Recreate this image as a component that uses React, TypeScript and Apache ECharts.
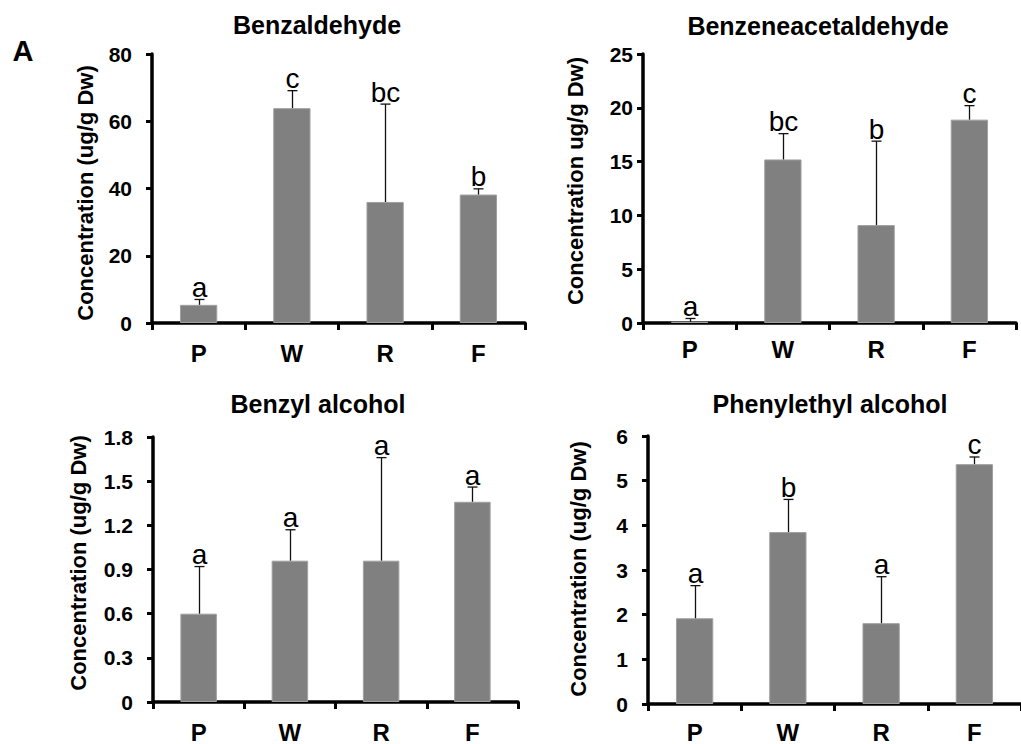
import React, { useEffect, useRef } from "react";
import * as echarts from "echarts";

const categories = ["P", "W", "R", "F"];

const benzaldehydeMean = [5.4, 63.9, 36.0, 38.2];
const benzaldehydeSd = [1.6, 5.2, 29.1, 1.7];
const benzaldehydeLetters = ["a", "c", "bc", "b"];

const benzeneacetaldehydeMean = [0.12, 15.2, 9.1, 18.9];
const benzeneacetaldehydeSd = [0.3, 2.4, 7.8, 1.3];
const benzeneacetaldehydeLetters = ["a", "bc", "b", "c"];

const benzylAlcoholMean = [0.6, 0.96, 0.96, 1.36];
const benzylAlcoholSd = [0.32, 0.21, 0.7, 0.1];
const benzylAlcoholLetters = ["a", "a", "a", "a"];

const phenylethylMean = [1.92, 3.85, 1.81, 5.37];
const phenylethylSd = [0.73, 0.73, 1.04, 0.16];
const phenylethylLetters = ["a", "b", "a", "c"];

const titles = ["Benzaldehyde", "Benzeneacetaldehyde", "Benzyl alcohol", "Phenylethyl alcohol"];
const yLabels = [
  "Concentration (ug/g Dw)",
  "Concentration ug/g Dw)",
  "Concentration (ug/g Dw)",
  "Concentration (ug/g Dw)",
];
const yMax = [80, 25, 1.8, 6];
const yInterval = [20, 5, 0.3, 1];

const FONT = "'Liberation Sans', Arial, Helvetica, sans-serif";

const panels = [
  { mean: benzaldehydeMean, sd: benzaldehydeSd, letters: benzaldehydeLetters },
  { mean: benzeneacetaldehydeMean, sd: benzeneacetaldehydeSd, letters: benzeneacetaldehydeLetters },
  { mean: benzylAlcoholMean, sd: benzylAlcoholSd, letters: benzylAlcoholLetters },
  { mean: phenylethylMean, sd: phenylethylSd, letters: phenylethylLetters },
];

// layout (style, not data)
const grids = [
  { left: 152, top: 54, width: 373, height: 269 },
  { left: 643, top: 54, width: 373, height: 269 },
  { left: 153, top: 437, width: 365, height: 268 },
  { left: 648, top: 436, width: 382, height: 268 },
];
const yLabelMargin = [20, 10, 20, 20];
const xLabelMargin = [18, 14, 18, 16];
const titlePos = [
  [317, 25],
  [818, 26],
  [318, 404],
  [830, 404],
];
const yNamePos = [
  [85, 193],
  [575, 181],
  [78, 563],
  [578, 569],
];

function makeRender(letters: string[]) {
  return (params: any, api: any) => {
    const base = api.coord([api.value(0), api.value(1)]);
    const top = api.coord([api.value(0), api.value(2)]);
    const cx = Math.round(base[0]) + 0.5;
    const ty = top[1];
    return {
      type: "group",
      children: [
        {
          type: "line",
          shape: { x1: cx, y1: base[1], x2: cx, y2: ty },
          style: { stroke: "#111", lineWidth: 1.3 },
        },
        {
          type: "line",
          shape: { x1: cx - 5, y1: ty, x2: cx + 5, y2: ty },
          style: { stroke: "#111", lineWidth: 1.3 },
        },
        {
          type: "text",
          style: {
            text: letters[params.dataIndex],
            x: cx,
            y: ty + 2,
            align: "center",
            verticalAlign: "bottom",
            fontSize: 28,
            fontFamily: FONT,
            fill: "#000",
          },
        },
      ],
    };
  };
}

export default function App() {
  const ref = useRef<HTMLDivElement>(null);

  useEffect(() => {
    if (!ref.current) return;
    const chart = echarts.init(ref.current, null, { renderer: "svg" });

    const xAxis = panels.map((_, i) => ({
      type: "category",
      gridIndex: i,
      data: categories,
      axisLine: { show: true, lineStyle: { color: "#000", width: 3.5 } },
      axisTick: { show: true, length: 7, lineStyle: { color: "#000", width: 3 } },
      axisLabel: {
        color: "#000",
        fontSize: 24,
        fontWeight: "bold",
        fontFamily: FONT,
        margin: xLabelMargin[i],
      },
      splitLine: { show: false },
    }));

    const yAxis = panels.map((_, i) => ({
      type: "value",
      gridIndex: i,
      min: 0,
      max: yMax[i],
      interval: yInterval[i],
      axisLine: { show: true, lineStyle: { color: "#000", width: 3.5 } },
      axisTick: { show: true, length: 6, lineStyle: { color: "#000", width: 3 } },
      axisLabel: {
        color: "#000",
        fontSize: 21,
        fontWeight: "bold",
        fontFamily: FONT,
        margin: yLabelMargin[i],
        formatter: (v: number) =>
          v === 0 ? "0" : yInterval[i] < 1 ? v.toFixed(1) : String(Math.round(v)),
      },
      splitLine: { show: false },
    }));

    const series: any[] = [];
    panels.forEach((p, i) => {
      series.push({
        type: "bar",
        xAxisIndex: i,
        yAxisIndex: i,
        data: p.mean,
        barWidth: "40%",
        itemStyle: { color: "#808080", borderColor: "#a0a0a0", borderWidth: 1 },
        z: 2,
      });
      series.push({
        type: "custom",
        xAxisIndex: i,
        yAxisIndex: i,
        data: categories.map((_, k) => [k, p.mean[k], p.mean[k] + p.sd[k]]),
        renderItem: makeRender(p.letters),
        clip: false,
        z: 3,
      });
    });

    const graphics: any[] = [];
    titles.forEach((t, i) => {
      graphics.push({
        type: "text",
        x: titlePos[i][0],
        y: titlePos[i][1],
        style: {
          text: t,
          align: "center",
          verticalAlign: "middle",
          fontSize: 25,
          fontWeight: "bold",
          fontFamily: FONT,
          fill: "#000",
        },
      });
      graphics.push({
        type: "text",
        x: yNamePos[i][0],
        y: yNamePos[i][1],
        rotation: Math.PI / 2,
        style: {
          text: yLabels[i],
          align: "center",
          verticalAlign: "middle",
          fontSize: 22,
          fontWeight: "bold",
          fontFamily: FONT,
          fill: "#000",
        },
      });
    });
    graphics.push({
      type: "text",
      x: 23,
      y: 51,
      style: {
        text: "A",
        align: "center",
        verticalAlign: "middle",
        fontSize: 29,
        fontWeight: "bold",
        fontFamily: FONT,
        fill: "#000",
      },
    });

    chart.setOption({
      animation: false,
      backgroundColor: "#fff",
      grid: grids.map((g) => ({ ...g, containLabel: false })),
      xAxis,
      yAxis,
      series,
      graphic: graphics,
    });

    return () => chart.dispose();
  }, []);

  return (
    <div
      ref={ref}
      style={{ position: "absolute", left: 0, top: 0, width: 1021, height: 744 }}
    />
  );
}
